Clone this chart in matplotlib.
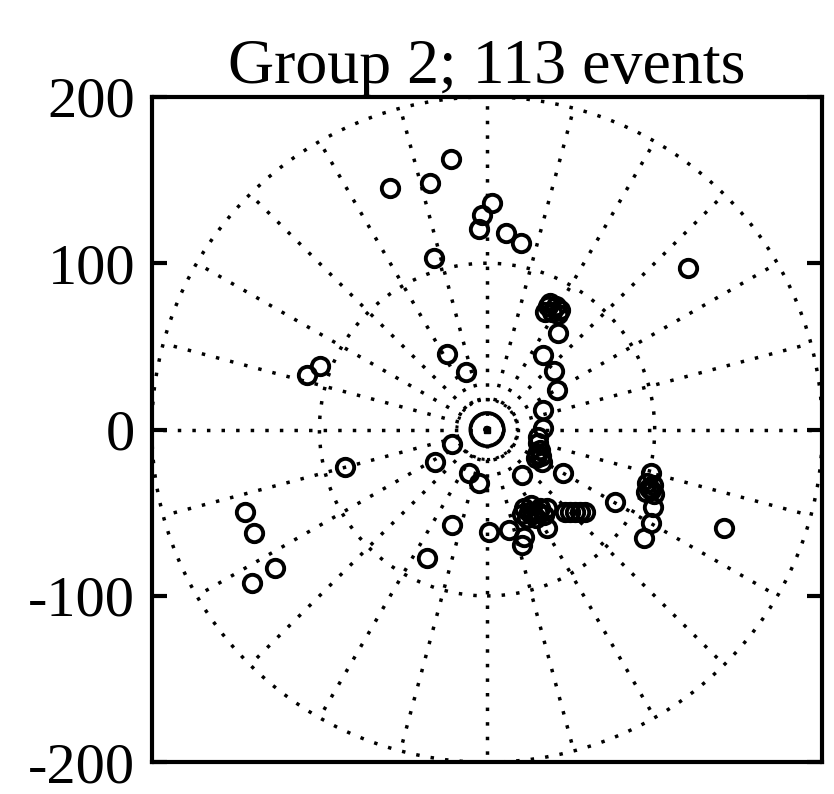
import numpy as np
import matplotlib
matplotlib.use("Agg")
import matplotlib.pyplot as plt
from matplotlib.patches import Circle

plt.rcParams['font.family'] = ['Liberation Serif', 'DejaVu Serif']

title_text = "Group 2; 113 events"
y_ticks = [-200, -100, 0, 100, 200]
y_tick_labels = ["-200", "-100", "0", "100", "200"]

# polar reference grid
ring_radii = [100, 200]
spoke_angles_deg = list(range(0, 360, 15))

# event locations (x, y)
event_x = [
    -57.8, -34.3, -21.7, 3.0, -3.0, -4.8, 11.4, 20.5, -31.9, 119.9,
    -24.1, -12.7, -107.2, -99.4,
    36.1, 41.0, 38.6, 43.4, 37.3, 34.3, 42.2,
    42.2, 33.1, 39.8, 41.6, 33.1, 33.1,
    30.1, 31.3, 28.9, 32.5, 30.1, 29.5, 31.9,
    21.1, 45.2, -21.1, -31.3, -10.8, -4.8, -84.9,
    97.6, 95.2, 97.6, 96.4, 98.8, 94.6, 99.4, 98.8, 97.6, 93.4,
    76.5, 141.6,
    22.3, 26.5, 31.3, 24.1, 28.9, 33.7, 25.3, 30.1, 27.7, 35.5, 21.1,
    46.4, 52.4, 58.4, 49.4, 55.4,
    35.5, 1.2, 13.3, 22.3, 21.1, -21.1, -36.1,
    -144.6, -139.2, -126.5, -140.4,
]
event_y = [
    145.5, 148.5, 162.9, 136.4, 129.2, 120.8, 118.4, 112.3, 103.3, 97.3,
    45.5, 34.6, 32.8, 38.3,
    74.4, 74.4, 70.8, 72.0, 76.2, 70.8, 69.6,
    58.1, 44.9, 35.2, 23.8, 11.7, 0.9,
    -8.1, -12.3, -17.2, -19.6, -4.5, -14.5, -16.0,
    -27.4, -26.2, -8.7, -19.6, -26.2, -32.2, -22.6,
    -26.2, -32.2, -36.4, -35.2, -33.4, -37.6, -38.8, -46.7, -56.3, -65.4,
    -43.7, -59.3,
    -47.3, -45.5, -47.3, -53.3, -53.3, -51.5, -49.7, -49.7, -50.9, -47.3, -50.9,
    -49.7, -49.7, -49.7, -49.7, -49.7,
    -59.3, -61.7, -60.5, -64.8, -69.6, -57.5, -77.4,
    -49.7, -62.3, -83.4, -92.5,
]

fig = plt.figure(figsize=(8.34, 7.94), dpi=100)
ax = fig.add_axes([0.182, 0.040, 0.804, 0.838])
ax.set_xlim(-200, 200)
ax.set_ylim(-200, 200)

dot_style = dict(color='black', linestyle=(0, (1, 3.2)), linewidth=2.5)

# grid rings and spokes
for r in ring_radii:
    ax.add_patch(Circle((0, 0), r, fill=False, **dot_style))
for a in spoke_angles_deg:
    t = np.deg2rad(a)
    ax.plot([0, 200 * np.cos(t)], [0, 200 * np.sin(t)], **dot_style)

# centre marks
ax.add_patch(Circle((0, 0), 18, fill=False, color='black',
                    linestyle=(0, (1, 2)), linewidth=2.2))
ax.add_patch(Circle((0, 0), 10, fill=False, color='black', linewidth=2.6))
ax.plot([0], [0], marker='s', markersize=5, color='black')

# events
ax.plot(event_x, event_y, linestyle='none', marker='o', markersize=12.5,
        markerfacecolor='none', markeredgecolor='black', markeredgewidth=2.8)

ax.set_title(title_text, fontsize=46, pad=6)
ax.set_yticks(y_ticks)
ax.set_yticklabels(y_tick_labels)
ax.set_xticks([])
ax.tick_params(axis='y', direction='in', length=11, width=3.0, pad=12,
               labelsize=42, right=True, left=True)
for s in ax.spines.values():
    s.set_linewidth(3.0)

fig.savefig("out.png", dpi=100)
